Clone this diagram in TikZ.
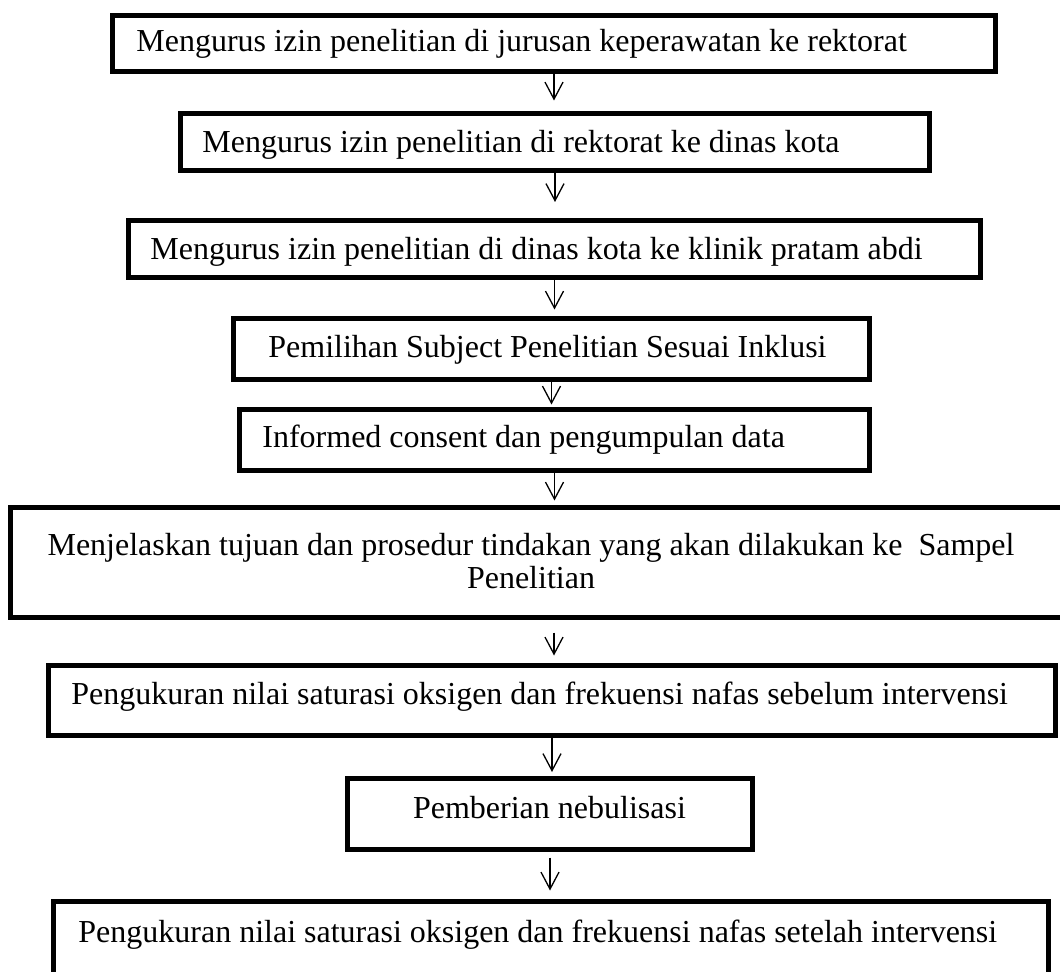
\documentclass[tikz,border=0pt]{standalone}
\usepackage{fontspec}
\setmainfont{Liberation Serif}
\usetikzlibrary{arrows.meta}

\begin{document}
\begin{tikzpicture}[x=0.5pt,y=-0.5pt,>={Straight Barb[length=8.5pt,width=9pt]}]
  \tikzstyle{box}=[rectangle,draw=black,line width=2.5pt,fill=white,inner sep=0pt]
  \tikzstyle{txt}=[inner sep=0pt,font=\fontsize{16}{16.5}\selectfont]
  \tikzstyle{flow}=[->,line width=0.65pt]
  \useasboundingbox (0,0) rectangle (1060,972);
  \clip (0,0) rectangle (1060,972);
  % boxes
  \node [box,minimum width=441.5pt,minimum height=28pt]   (b1) at (554,43.5)   {};
  \node [box,minimum width=374.5pt,minimum height=28.5pt] (b2) at (555,142)    {};
  \node [box,minimum width=426pt,minimum height=28.5pt]   (b3) at (554.5,249)  {};
  \node [box,minimum width=318pt,minimum height=30.5pt]   (b4) at (551.5,349)  {};
  \node [box,minimum width=315pt,minimum height=30.5pt]   (b5) at (554.5,440)  {};
  \node [box,minimum width=543.5pt,minimum height=55pt]   (b6) at (554,562.5)  {};
  \node [box,minimum width=503.5pt,minimum height=35pt]   (b7) at (552,700.5)  {};
  \node [box,minimum width=202.5pt,minimum height=35.5pt] (b8) at (550,814)    {};
  \node [box,minimum width=497.5pt,minimum height=44.25pt] (b9) at (551,945.75) {};
  % texts
  \node [txt,anchor=west] (t1) at (136,44)  {Mengurus izin penelitian di jurusan keperawatan ke rektorat};
  \node [txt,anchor=west] (t2) at (202,145) {Mengurus izin penelitian di rektorat ke dinas kota};
  \node [txt,anchor=west] (t3) at (150,252) {Mengurus izin penelitian di dinas kota ke klinik pratam abdi};
  \node [txt,anchor=west] (t4) at (268,350) {Pemilihan Subject Penelitian Sesuai Inklusi};
  \node [txt,anchor=west] (t5) at (262,440) {Informed consent dan pengumpulan data};
  \node [txt,align=center] (t6) at (531,561.5) {Menjelaskan tujuan dan prosedur tindakan yang akan dilakukan ke~ Sampel\\Penelitian};
  \node [txt,anchor=west] (t7) at (71,697)  {Pengukuran nilai saturasi oksigen dan frekuensi nafas sebelum intervensi};
  \node [txt] (t8) at (549.5,808) {Pemberian nebulisasi};
  \node [txt,anchor=west] (t9) at (78,935)  {Pengukuran nilai saturasi oksigen dan frekuensi nafas setelah intervensi};
  % arrows
  \draw [flow,shorten >=5.25pt] (b1.south) -- (b1.south |- b2.north);
  \draw [flow,shorten >=8pt]    (b2.south) -- (b2.south |- b3.north);
  \draw [flow,shorten >=3.25pt] (b3.south) -- (b3.south |- b4.north);
  \draw [flow,shorten >=1.25pt] (b4.south) -- (b4.south |- b5.north);
  \draw [flow,shorten >=2.25pt] (b5.south) -- (b5.south |- b6.north);
  \draw [flow,shorten <=6.25pt,shorten >=3.75pt] (b6.south) -- (b6.south |- b7.north);
  \draw [flow,shorten >=2pt]    (b7.south) -- (b7.south |- b8.north);
  \draw [flow,shorten <=2.75pt,shorten >=4.25pt] (b8.south) -- (b8.south |- b9.north);
\end{tikzpicture}
\end{document}
